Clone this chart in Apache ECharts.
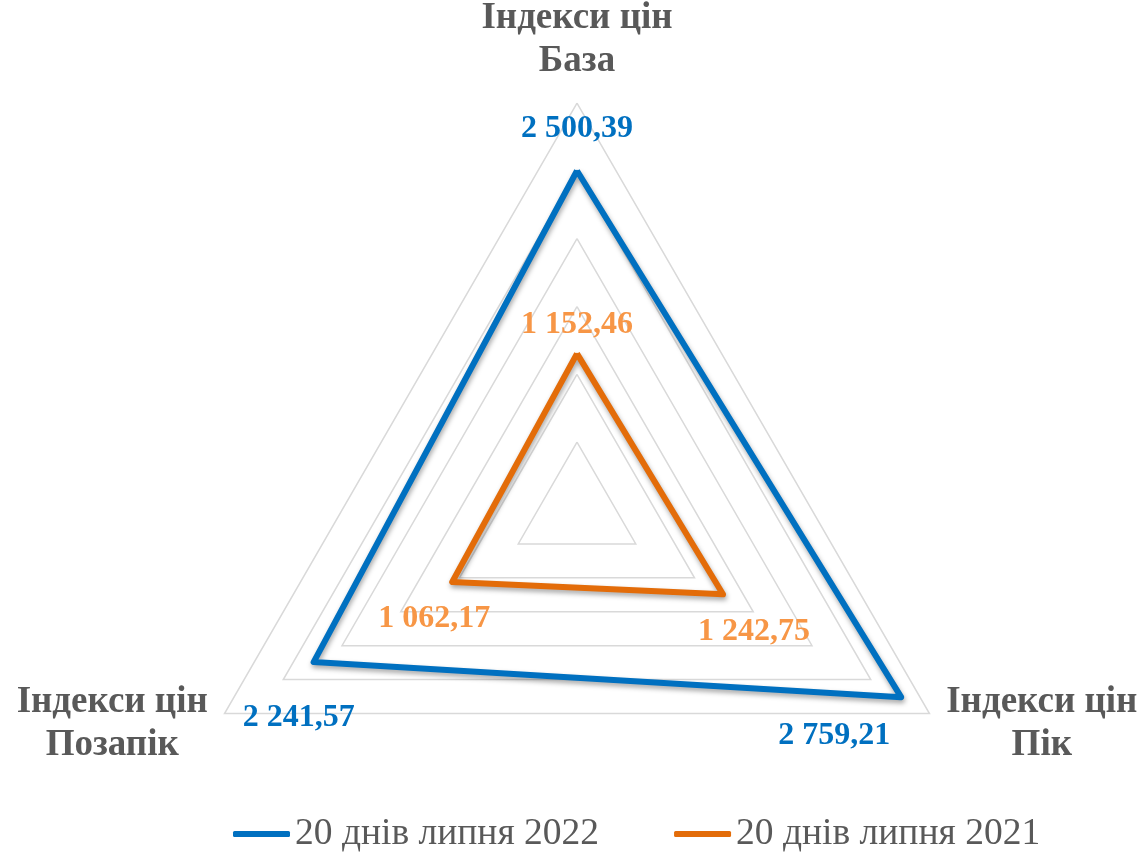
<!DOCTYPE html>
<html>
<head>
<meta charset="utf-8">
<script src="https://cdn.jsdelivr.net/npm/echarts@6/dist/echarts.min.js"></script>
<style>
  html, body { margin: 0; padding: 0; background: #fff; }
  #chart { width: 1140px; height: 855px; }
</style>
</head>
<body>
<div id="chart"></div>
<script>
const indicatorTitle = "Індекси цін";
const indicatorNames = ["База", "Позапік", "Пік"];
const seriesNames = ["20 днів липня 2022", "20 днів липня 2021"];
const values2022 = [2500.39, 2241.57, 2759.21];
const values2021 = [1152.46, 1062.17, 1242.75];
const axisMax = 3000;
const splitCount = 6;

const CENTER = [577, 510];
const FONT = "'Liberation Serif', 'Times New Roman', serif";

// label offsets from the vertex (top, bottom-left, bottom-right)
const labelShift = [
  [[0, -42], [-15, 56], [-67, 39]],
  [[0, -29], [-18, 37], [31, 37]],
];

function formatValue(v) {
  const [intPart, dec] = v.toFixed(2).split(".");
  return intPart.replace(/\B(?=(\d{3})+(?!\d))/g, " ") + "," + dec;
}

function vertexOf(rect) {
  const cx = rect.x + rect.width / 2;
  const cy = rect.y + rect.height / 2;
  if (cy < CENTER[1] - 5) return 0;
  return cx < CENTER[0] ? 1 : 2;
}

const chart = echarts.init(document.getElementById("chart"));

chart.setOption({
  animation: false,
  textStyle: { fontFamily: FONT },
  color: ["#0070C0", "#E36C09"],
  legend: {
    left: 233,
    top: 815,
    padding: 0,
    itemWidth: 57,
    itemHeight: 6,
    itemGap: 75,
    icon: "roundRect",
    data: seriesNames,
    textStyle: { fontFamily: FONT, fontSize: 37.5, color: "#595959" },
  },
  radar: {
    center: CENTER,
    radius: 407,
    startAngle: 90,
    shape: "polygon",
    splitNumber: splitCount,
    nameGap: 20,
    indicator: indicatorNames.map((name) => ({ name, min: 0, max: axisMax })),
    axisName: {
      formatter: (name) => `{t|${indicatorTitle}}\n{t|${name}}`,
      rich: {
        t: {
          width: 190,
          align: "center",
          fontFamily: FONT,
          fontSize: 37,
          fontWeight: "bold",
          lineHeight: 43,
          color: "#595959",
        },
      },
    },
    axisLine: { show: false },
    axisTick: { show: false },
    axisLabel: { show: false },
    splitArea: { show: false },
    splitLine: { lineStyle: { color: "#d9d9d9", width: 1.5 } },
  },
  series: [
    {
      type: "radar",
      symbol: "circle",
      symbolSize: 2,
      lineStyle: {
        width: 6,
        shadowBlur: 5,
        shadowColor: "rgba(0,0,0,0.35)",
        shadowOffsetX: 1,
        shadowOffsetY: 3,
      },
      label: {
        show: true,
        position: "inside",
        fontFamily: FONT,
        fontSize: 32,
        fontWeight: "bold",
        formatter: (p) => formatValue(p.value),
      },
      labelLayout: (params) => {
        const [dx, dy] = labelShift[params.dataIndex][vertexOf(params.rect)];
        return { dx, dy };
      },
      data: [
        {
          name: seriesNames[0],
          value: values2022,
          itemStyle: { color: "#0070C0" },
          lineStyle: { color: "#0070C0" },
          label: { color: "#0070C0" },
        },
        {
          name: seriesNames[1],
          value: values2021,
          itemStyle: { color: "#E36C09" },
          lineStyle: { color: "#E36C09" },
          label: { color: "#F79646" },
        },
      ],
    },
  ],
});
</script>
</body>
</html>
